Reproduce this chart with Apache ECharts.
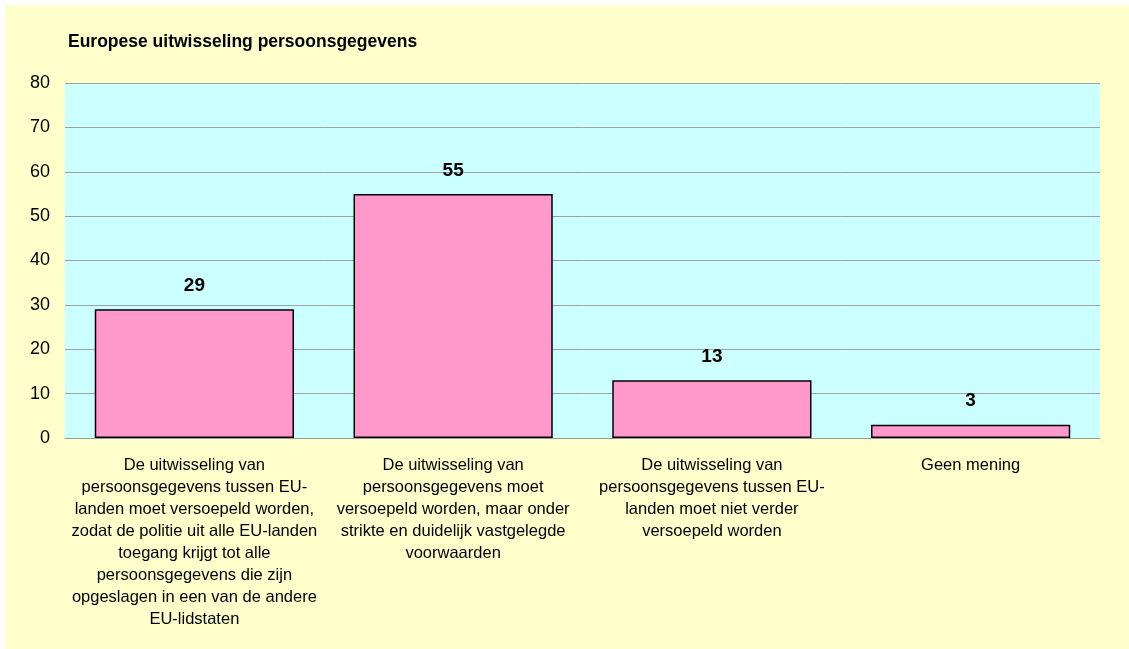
<!DOCTYPE html>
<html>
<head>
<meta charset="utf-8">
<script src="https://cdn.jsdelivr.net/npm/echarts@6/dist/echarts.min.js"></script>
<style>
  html, body { margin: 0; padding: 0; background: #ffffff; }
  #main { position: absolute; left: 5px; top: 5px; width: 1124px; height: 644px; }
</style>
</head>
<body>
<div id="main"></div>
<script>
  var titleText = 'Europese uitwisseling persoonsgegevens';
  var categories = [
    'De uitwisseling van\npersoonsgegevens tussen EU-\nlanden moet versoepeld worden,\nzodat de politie uit alle EU-landen\ntoegang krijgt tot alle\npersoonsgegevens die zijn\nopgeslagen in een van de andere\nEU-lidstaten',
    'De uitwisseling van\npersoonsgegevens moet\nversoepeld worden, maar onder\nstrikte en duidelijk vastgelegde\nvoorwaarden',
    'De uitwisseling van\npersoonsgegevens tussen EU-\nlanden moet niet verder\nversoepeld worden',
    'Geen mening'
  ];
  var values = [29, 55, 13, 3];

  var myChart = echarts.init(document.getElementById('main'));
  var option = {
    backgroundColor: '#ffffcc',
    animation: false,
    title: {
      text: titleText,
      left: 58,
      top: 23,
      textStyle: { fontFamily: 'Liberation Sans', fontSize: 17.5, fontWeight: 'bold', color: '#000' }
    },
    grid: {
      left: 60,
      right: 29,
      top: 78,
      bottom: 211,
      show: true,
      backgroundColor: '#ccffff',
      borderWidth: 0
    },
    xAxis: {
      type: 'category',
      data: categories,
      axisLine: { show: true, lineStyle: { color: '#999999', width: 1 } },
      axisTick: { show: false },
      axisLabel: {
        interval: 0,
        margin: 16,
        fontFamily: 'Liberation Sans',
        fontSize: 16.5,
        lineHeight: 22,
        color: '#000'
      }
    },
    yAxis: {
      type: 'value',
      min: 0,
      max: 80,
      interval: 10,
      axisLine: { show: false },
      axisTick: { show: false },
      splitLine: { lineStyle: { color: '#a0a0a0', width: 1 } },
      axisLabel: {
        margin: 15,
        fontFamily: 'Liberation Sans',
        fontSize: 18,
        color: '#000'
      }
    },
    series: [{
      type: 'bar',
      data: values,
      barCategoryGap: '23%',
      itemStyle: { color: '#ff99cc', borderColor: '#000', borderWidth: 1.5 },
      label: {
        show: true,
        position: 'top',
        distance: 14,
        fontFamily: 'Liberation Sans',
        fontSize: 19,
        fontWeight: 'bold',
        color: '#000'
      }
    }]
  };
  myChart.setOption(option);
</script>
</body>
</html>
